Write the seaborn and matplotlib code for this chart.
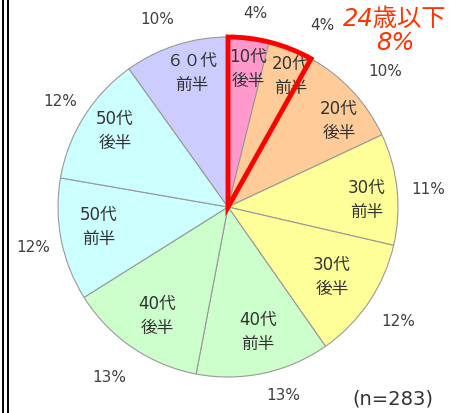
import matplotlib
matplotlib.use("Agg")
import matplotlib.pyplot as plt
import seaborn as sns
from matplotlib.patches import Wedge

sns.set_theme(style="white")
plt.rcParams['font.family'] = ['DejaVu Sans', 'Noto Sans CJK JP']

# respondents per age group (n=283), clockwise from the top
groups = ["10代\n後半", "20代\n前半", "20代\n後半", "30代\n前半", "30代\n後半",
          "40代\n前半", "40代\n後半", "50代\n前半", "50代\n後半", "６０代\n前半"]
counts = [11, 12, 28, 30, 33, 36, 37, 33, 35, 28]
colors = ["#FF99CC", "#FFCC99", "#FFCC99", "#FFFF99", "#FFFF99",
          "#CCFFCC", "#CCFFCC", "#CCFFFF", "#CCFFFF", "#CCCCFF"]
highlight = [0, 1]  # 24歳以下
highlight_label = "24歳以下\n8%"
n_label = "(n=283)"

W, H = 463, 413
fig = plt.figure(figsize=(W / 100, H / 100), dpi=100)
ax = fig.add_axes([0, 0, 1, 1])

cx, cy, r = 228, 206, 170
wedges, texts, pcts = ax.pie(
    counts, labels=groups, colors=colors, startangle=90, counterclock=False,
    center=(cx, cy), radius=r, labeldistance=0.8, pctdistance=1.18,
    autopct="%.0f%%", frame=True,
    wedgeprops=dict(edgecolor="#999999", linewidth=0.8),
    textprops=dict(fontsize=12, color="#333333"))
ax.set_xlim(0, W)
ax.set_ylim(0, H)
ax.axis("off")

# label layout as in the source chart (pixels, y from top)
label_pos = [(248, 69), (291, 76), (339, 121), (367, 200), (332, 277),
             (258, 332), (157, 316), (99, 227), (115, 131), (192, 73)]
for t, (px, py) in zip(texts, label_pos):
    t.set_position((px, H - py))
    t.set_ha("center")
    t.set_va("center")
    t.set_linespacing(1.4)

pct_pos = [(255, 14), (322, 26), (385, 71), (428, 190), (398, 321),
           (283, 395), (109, 377), (33, 247), (60, 101), (157, 19)]
for t, (px, py) in zip(pcts, pct_pos):
    t.set_position((px, H - py))
    t.set_fontsize(11)
    t.set_color("#404040")

# red outline around the under-24 slices
th1 = min(wedges[i].theta1 for i in highlight)
th2 = max(wedges[i].theta2 for i in highlight)
ax.add_patch(Wedge((cx, cy), r, th1, th2, fill=False, edgecolor="#FF0000",
                   linewidth=3.5, joinstyle="miter", zorder=5))

ax.text(395, H - 31, highlight_label, color="#FF3300", fontsize=17.5,
        style="italic", ha="center", va="center", linespacing=1.0)
ax.text(393, H - 399, n_label, color="#333333", fontsize=14, ha="center", va="center")

# double frame line on the left
for x in (3, 8):
    ax.plot([x, x], [0, H], color="black", linewidth=1.4, solid_capstyle="butt")

fig.savefig("out.png", dpi=100)
